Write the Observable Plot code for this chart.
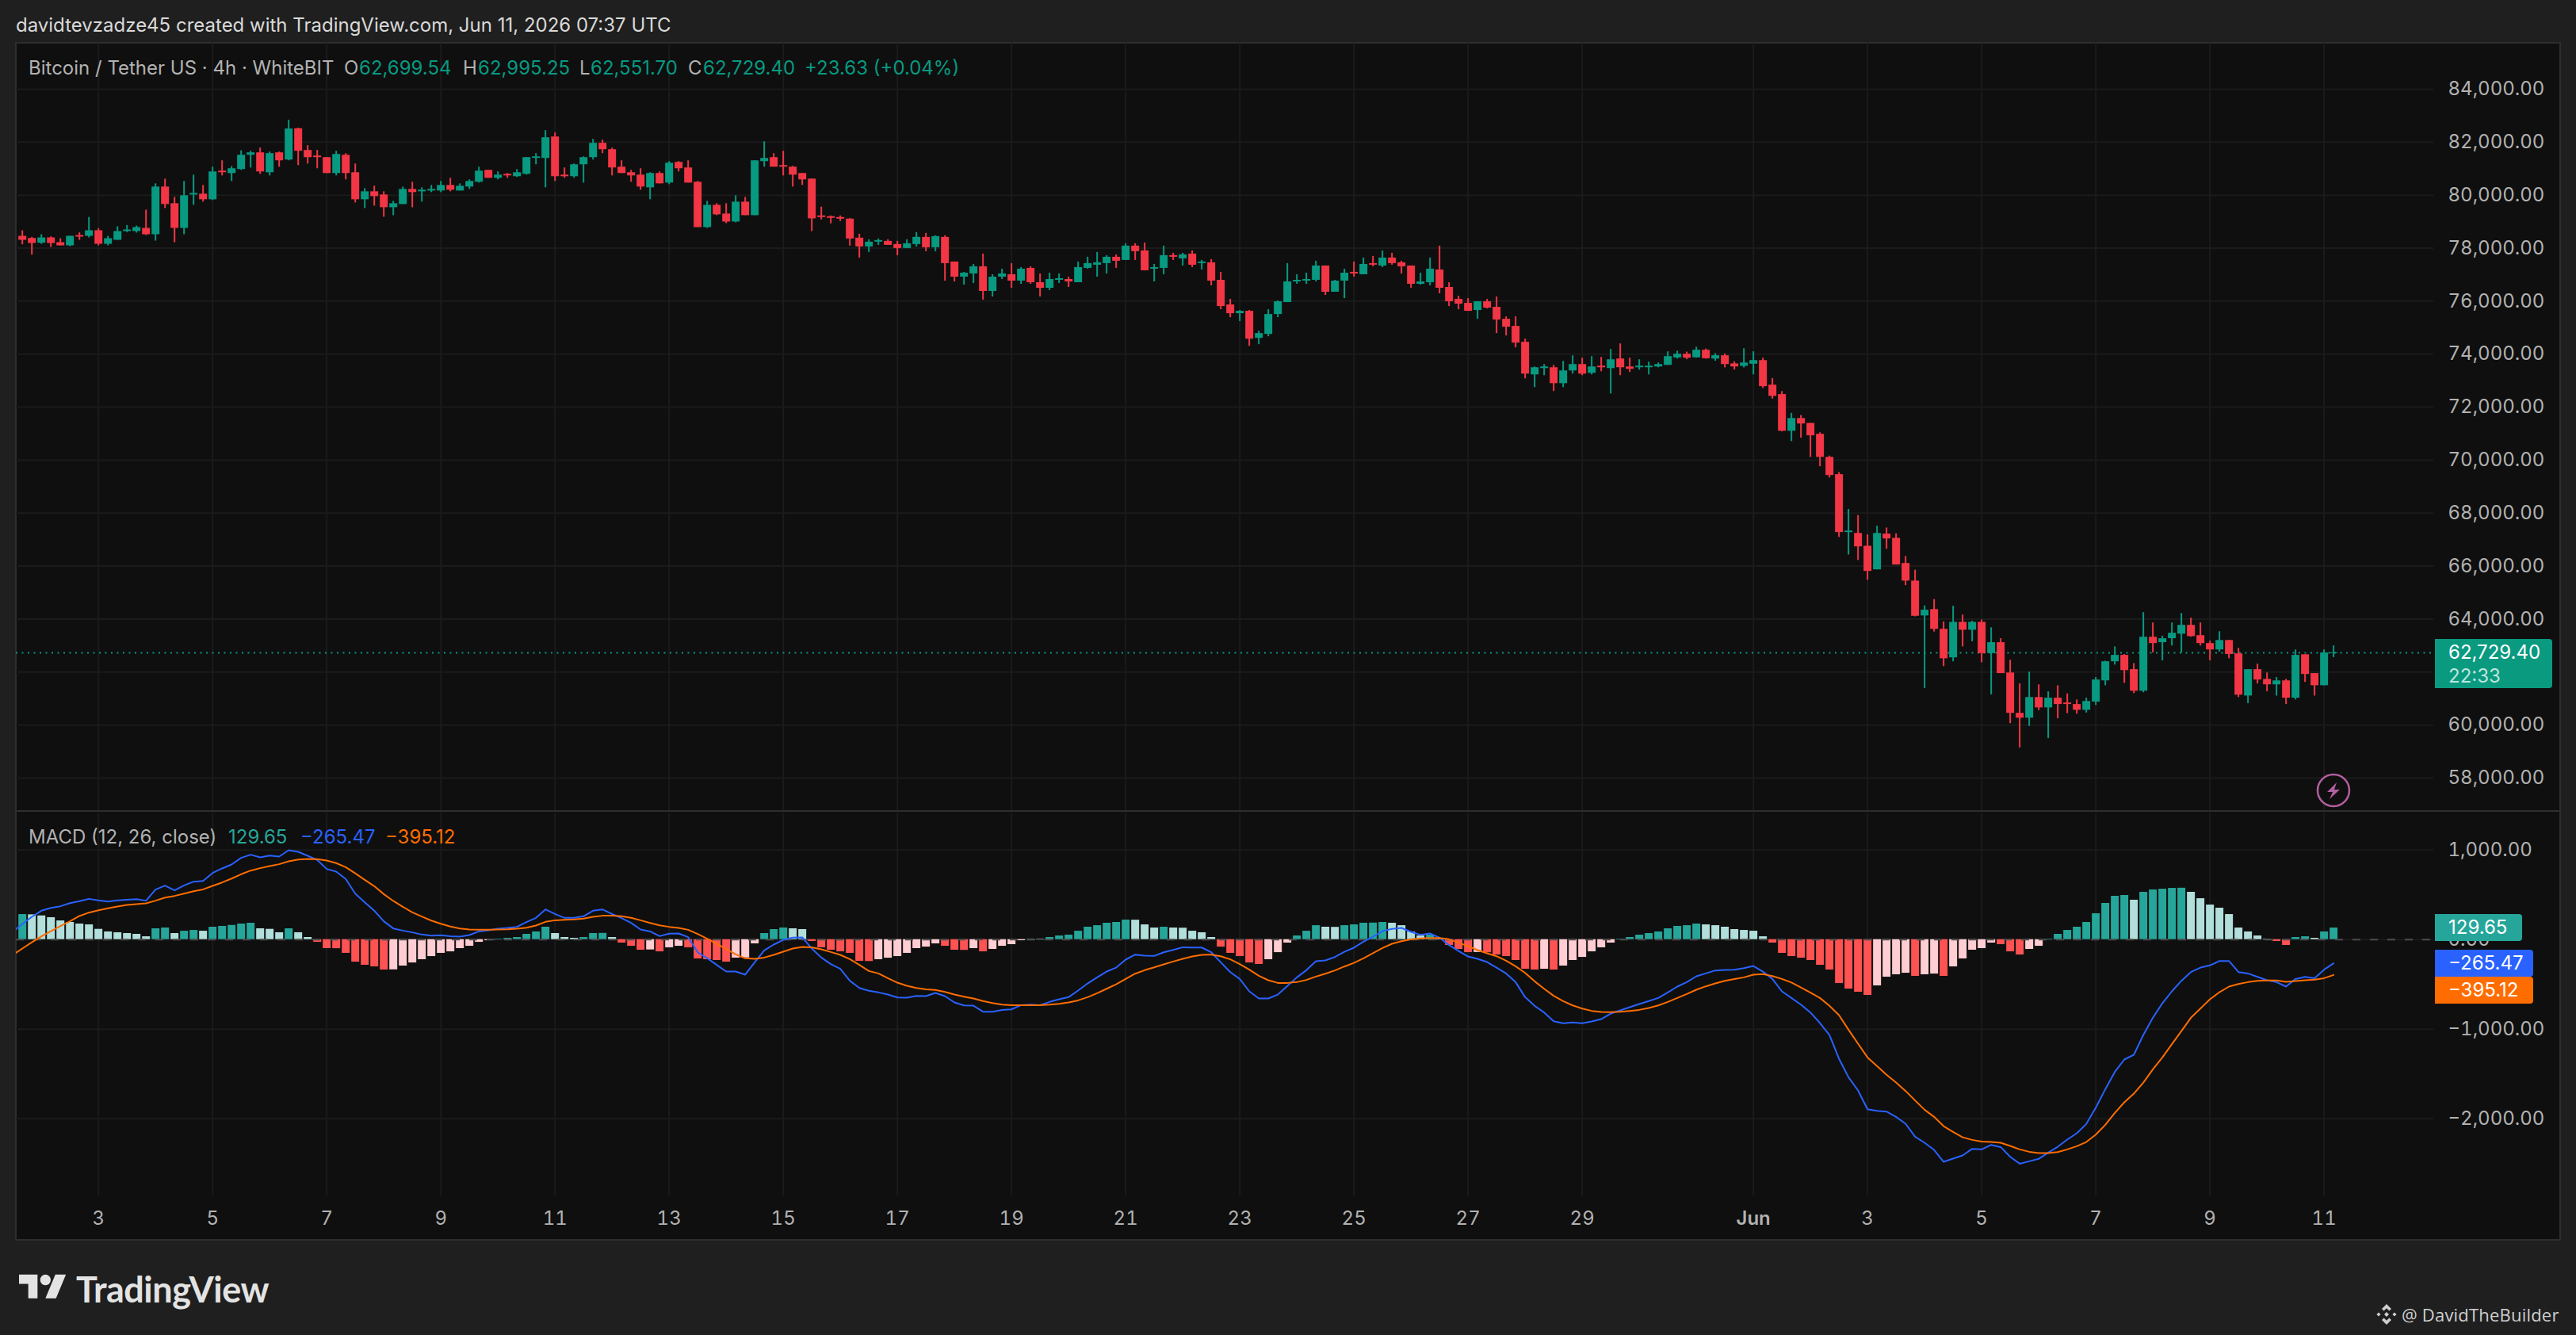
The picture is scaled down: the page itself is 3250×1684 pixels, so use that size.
<!DOCTYPE html>
<html>
<head>
<meta charset="utf-8">
<script src="https://cdn.jsdelivr.net/npm/d3@7"></script>
<script src="https://cdn.jsdelivr.net/npm/@observablehq/plot@0.6"></script>
<style>
html,body{margin:0;padding:0;background:#1f1f1f}
#page{position:relative;width:3250px;height:1684px;background:#1f1f1f;overflow:hidden;font-family:Inter,sans-serif}
#panel{position:absolute;left:19px;top:53px;width:3208px;height:1508px;background:#0f0f0f;border:2px solid #2e2e2e}
#sep{position:absolute;left:20px;top:1022px;width:3209px;height:2px;background:#2e2e2e}
.plot{position:absolute;left:20px}
.t{position:absolute;white-space:pre;line-height:1;font-size:24px;transform:translateY(-50%)}
.tag{position:absolute;left:3072px;color:#fff;font-size:24px;border-radius:0 4px 4px 0;box-sizing:border-box;padding-left:17px;white-space:pre}
svg.ic{position:absolute;overflow:visible}
</style>
</head>
<body>
<div id="page">
  <div id="panel"></div>
  <div class="plot" id="pricePlot" style="top:54px"></div>
  <div class="plot" id="macdPlot" style="top:1025px"></div>
  <div id="sep"></div>
</div>
<script>
const open = [
78450,78370,78190,78390,78210,78090,78480,78450,78660,78150,
78300,78630,78630,78750,78510,80310,79680,78750,80010,80040,
79830,80910,80820,80970,81510,81600,80850,81600,81330,82510,
81690,81480,81420,80820,81510,80850,79830,80130,80010,79530,
79650,80220,80130,80160,80160,80370,80160,80310,80490,80940,
80640,80790,80700,80790,81390,81390,82200,80760,80700,81150,
81420,81960,81720,81060,80850,80760,80280,80820,80460,81240,
81030,80490,78780,79620,79290,78990,79740,79230,81270,81420,
81120,81060,80820,80610,79220,79190,79160,79100,78380,78050,
78230,78260,78140,77990,78140,78410,78020,78410,77480,76910,
77030,77300,76370,76910,77000,76760,77240,76700,76490,76790,
76820,76700,77240,77360,77420,77660,77540,78080,77900,77210,
77240,77720,77600,77780,77420,77450,76790,75860,75530,75620,
74600,74750,75500,75950,76730,76760,76790,77330,76340,76760,
77090,77000,77420,77330,77630,77450,77330,76640,76700,77180,
76520,76070,75920,75650,75980,75770,75320,75050,74450,73220,
73460,73490,72890,73370,73610,73280,73550,73460,73820,73520,
73490,73490,73520,73580,73860,74000,73865,74150,73817,73943,
73634,73543,73623,73760,72833,72478,71093,71574,71390,70978,
70108,69456,67270,67235,66754,65862,67212,67052,66102,65438,
64122,64362,63618,62542,63881,63584,63881,62702,63114,61970,
60447,60264,61042,60653,61019,60836,60779,60562,60871,61672,
62393,62634,62096,61282,63320,63114,63263,63435,63767,63378,
63080,62840,63195,62691,61100,62096,61729,61523,61672,61019,
62657,61947,61489,62699.54];
const high = [
78660,78410,78510,78430,78360,78460,78580,79160,78740,78450,
78810,78860,78840,79440,80430,80610,79920,80520,80760,80370,
81060,81300,81080,81680,81660,81780,81630,81630,82830,82530,
81870,81690,81420,81660,81570,81180,80250,80340,80130,79770,
80310,80490,80280,80370,80520,80640,80430,80580,81060,80940,
80880,80820,80970,81420,81570,82440,82350,81030,81180,81450,
82110,82080,81780,81300,80940,81000,80850,80880,81270,81270,
81300,80520,79770,79680,79680,79980,79920,81300,82020,81570,
81660,81090,80820,80610,79550,79220,79220,79120,78530,78320,
78350,78320,78260,78320,78590,78560,78470,78470,77480,77090,
77390,77780,77000,77210,77420,77270,77300,77030,77060,77030,
76910,77480,77660,77840,77720,77750,78170,78170,78200,77390,
78080,77810,77810,77900,77540,77570,77090,76070,75650,75650,
74870,75680,76010,77420,77000,77060,77510,77330,76790,77210,
77480,77630,77690,77900,77810,77510,77330,77060,77630,78080,
76700,76190,76100,75980,76070,76160,75410,75410,74570,73520,
73610,73580,73730,73940,73850,73910,73880,74180,74390,73850,
73790,73700,73670,74090,74115,74080,74264,74195,74023,74012,
73714,74206,74092,73852,73085,72592,71768,71688,71390,71036,
70154,69536,68140,67910,67178,67510,67441,67224,66365,65850,
64500,64740,63893,64488,64156,63927,63973,63675,63263,62450,
61558,62004,61523,61260,61489,61180,60951,61019,61798,62416,
62954,62668,62324,64248,63858,63355,63858,64213,64041,63858,
63172,63526,63195,62897,62096,62302,61970,61798,61729,62840,
62657,61947,62840,62995.25];
const low = [
78130,77740,78150,78030,78090,78060,78300,78390,78090,78090,
78300,78590,78570,78480,78270,79500,78210,78510,79620,79740,
79800,80730,80520,80940,81030,80790,80730,81060,81300,81120,
81180,81000,80820,80730,80580,79710,79500,79590,79170,79230,
79650,79530,79740,80100,80100,80130,80160,80220,80460,80640,
80580,80640,80670,80760,81150,80280,80520,80640,80640,80460,
81330,81570,80730,80820,80490,80190,79830,80430,80400,80880,
80460,78780,78750,79230,78930,78960,79230,79230,81060,81060,
80730,80310,80370,78630,79070,78920,79010,78080,77630,77840,
78110,78110,77720,77990,78050,77870,77870,76760,76730,76610,
76670,76040,76160,76820,76490,76640,76640,76160,76400,76670,
76520,76700,77210,76910,77030,77240,77540,77540,77150,76730,
77000,77540,77330,77270,77180,76580,75680,75380,75230,74300,
74360,74660,75380,75950,76640,76640,76730,76220,76340,76100,
76910,77000,77300,77270,77360,77030,76490,76610,76580,76280,
75800,75680,75620,75320,75710,74780,74690,74240,73070,72740,
73190,72590,72740,73250,73190,73220,73340,72500,73190,73310,
73400,73220,73490,73580,73817,73795,73852,73817,73737,73485,
73405,73485,73222,72707,72306,71070,70704,70830,70108,69753,
69330,67086,66422,66216,65472,65862,66640,66045,65266,64087,
61385,63515,62210,62393,62954,63149,62359,61145,61947,60058,
59142,59955,60550,59497,60241,60436,60413,60459,60745,61489,
62267,61580,61191,61225,62725,62428,62988,62725,63320,62988,
62428,62760,62507,61042,60814,61557,61260,61100,60779,60951,
61615,61099,61489,62551.70];
const close = [
78300,78180,78390,78180,78090,78450,78420,78660,78150,78360,
78630,78690,78780,78510,80310,79650,78750,79980,80070,79830,
80880,80850,81000,81510,81600,80880,81570,81300,82500,81660,
81420,81420,80820,81540,80820,79830,80130,79950,79530,79680,
80220,80100,80190,80220,80370,80190,80340,80520,80910,80640,
80760,80730,80850,81420,81450,82170,80700,80700,81150,81420,
81960,81720,81030,80820,80730,80310,80820,80430,81210,81000,
80460,78780,79620,79260,78990,79740,79230,81300,81390,81060,
81060,80760,80580,79110,79160,79130,79100,78350,78050,78230,
78290,78110,77990,78170,78410,78020,78440,77420,76910,77060,
77300,76370,76910,77030,76760,77210,76700,76490,76820,76850,
76730,77270,77420,77450,77660,77510,78080,77870,77150,77270,
77720,77660,77750,77360,77480,76760,75800,75530,75620,74570,
74780,75500,75980,76730,76790,76820,77330,76340,76760,77060,
77030,77390,77360,77630,77420,77300,76640,76730,77210,76490,
75980,75890,75620,75980,75740,75290,75020,74420,73250,73490,
73520,72890,73370,73610,73250,73520,73490,73790,73490,73430,
73550,73550,73610,73910,74000,73850,74150,73830,73943,73611,
73520,73668,73760,72776,72409,71093,71574,71367,70921,70108,
69422,67270,67327,66731,65804,67235,67029,66045,65438,64110,
64339,63618,62507,63881,63584,63881,62702,63114,61947,60447,
60264,61042,60653,61019,60779,60779,60562,60894,61706,62393,
62634,62061,61282,63320,63080,63263,63469,63767,63343,63080,
62840,63195,62668,61134,62096,61706,61523,61672,61019,62634,
61913,61489,62725,62729.40];
const histogram = [
280,277,265,245,209,192,174,165,115,86,
77,68,59,32,121,130,68,94,103,94,
139,148,159,174,183,121,115,77,121,77,
24,-30,-100,-101,-153,-251,-286,-304,-339,-337,
-295,-260,-224,-189,-153,-136,-100,-74,-30,-12,
6,15,24,59,86,139,68,24,15,24,
68,70,24,-38,-74,-118,-115,-136,-91,-74,
-91,-215,-224,-233,-251,-206,-204,-47,68,112,
130,121,112,-21,-91,-118,-136,-153,-242,-244,
-224,-207,-189,-153,-100,-83,-47,-74,-118,-120,
-100,-136,-109,-74,-56,-12,7,5,24,41,
50,94,139,156,183,192,218,217,165,130,
139,130,128,94,77,24,-83,-153,-189,-260,
-277,-224,-145,-38,41,94,156,139,137,156,
165,183,185,192,183,156,86,41,50,6,
-65,-109,-145,-143,-146,-171,-189,-233,-330,-339,
-330,-339,-295,-233,-198,-136,-91,-38,6,24,
50,68,86,121,148,156,174,165,156,139,
112,103,94,32,-38,-153,-189,-207,-233,-286,
-339,-490,-552,-587,-622,-516,-419,-392,-375,-410,
-392,-384,-410,-304,-215,-118,-100,-38,-56,-136,
-171,-109,-74,6,59,103,139,192,289,404,
484,493,440,528,555,563,572,574,528,457,
386,351,280,130,86,41,6,-21,-65,24,
32,15,86,129.65];
// MACD and signal lines start one bar before the first candle (cut by the pane edge)
const macdLine = [86,
174,254,322,354,372,407,428,454,437,425,
437,445,451,434,558,602,549,605,646,655,
743,794,838,912,947,917,938,926,997,979,
935,888,788,758,676,513,416,322,204,124,
100,80,56,44,47,38,32,50,91,103,
121,130,142,195,242,336,286,242,242,260,
322,336,286,239,186,112,91,38,65,68,
27,-142,-207,-283,-357,-357,-392,-254,-121,-56,
-3,21,24,-100,-201,-274,-327,-460,-540,-572,
-590,-614,-646,-649,-628,-631,-596,-631,-702,-735,
-738,-805,-805,-785,-779,-732,-726,-732,-696,-667,
-643,-569,-490,-422,-357,-313,-224,-168,-180,-183,
-142,-115,-86,-89,-89,-142,-254,-363,-440,-578,
-658,-658,-614,-519,-422,-342,-242,-233,-195,-136,
-91,-24,32,94,118,130,86,53,68,21,
-62,-127,-189,-215,-251,-313,-378,-475,-643,-740,
-814,-912,-935,-926,-935,-915,-888,-826,-791,-755,
-720,-687,-652,-590,-525,-475,-410,-378,-345,-339,
-336,-319,-295,-357,-440,-578,-652,-726,-814,-932,
-1065,-1330,-1537,-1684,-1894,-1912,-1920,-1979,-2056,-2201,
-2268,-2348,-2481,-2445,-2410,-2336,-2342,-2292,-2316,-2425,
-2502,-2475,-2448,-2378,-2313,-2233,-2162,-2059,-1876,-1670,
-1478,-1339,-1286,-1065,-873,-711,-578,-460,-363,-313,
-289,-239,-239,-363,-378,-416,-454,-475,-525,-440,
-416,-431,-336,-265.47];
const signalLine = [-171,
-100,-30,35,94,150,204,263,301,327,348,
369,386,395,404,434,469,487,513,540,560,
599,637,681,729,770,797,820,841,873,894,
900,897,882,853,808,740,667,596,507,431,
366,304,257,212,177,145,124,112,109,109,
112,115,121,133,156,198,215,221,224,233,
254,266,266,260,242,215,186,159,142,130,
109,62,9,-47,-106,-165,-209,-215,-201,-171,
-136,-100,-83,-86,-109,-139,-171,-218,-283,-351,
-378,-431,-481,-516,-540,-555,-563,-584,-614,-637,
-658,-687,-708,-726,-732,-732,-732,-732,-726,-717,
-702,-679,-643,-599,-549,-499,-440,-381,-342,-310,
-277,-245,-215,-189,-171,-168,-186,-221,-274,-336,
-404,-454,-484,-484,-475,-451,-413,-381,-345,-301,
-260,-209,-153,-94,-47,-18,3,12,18,18,
3,-35,-74,-118,-153,-186,-236,-298,-372,-466,
-549,-628,-687,-735,-770,-796,-808,-811,-805,-796,
-785,-764,-735,-696,-652,-608,-560,-522,-490,-460,
-440,-422,-392,-386,-407,-440,-480,-535,-593,-652,
-740,-844,-1006,-1162,-1316,-1413,-1510,-1596,-1690,-1796,
-1900,-1979,-2083,-2148,-2207,-2236,-2254,-2260,-2268,-2304,
-2342,-2369,-2384,-2384,-2372,-2342,-2307,-2260,-2177,-2068,
-1935,-1817,-1720,-1596,-1448,-1316,-1168,-1021,-873,-770,
-667,-587,-525,-496,-475,-460,-457,-457,-472,-463,
-454,-448,-431,-395.12];
const priceTicks = [58000,60000,62000,64000,66000,68000,70000,72000,74000,76000,78000,80000,82000,84000];
// the 62,000 label sits hidden behind the last-price tag in the reference
const priceLabels = priceTicks.filter(t=>t!==62000);
const macdTicks = [1000,0,-1000,-2000];
// bar index of each labelled day on the time axis
const dayBars = [8,20,32,44,56,68,80,92,104,116,128,140,152,164,182,194,206,218,230,242];
const dayLabels = ["3","5","7","9","11","13","15","17","19","21","23","25","27","29","Jun","3","5","7","9","11"];
const lastPrice = 62729.40;

const GREEN="#089981", RED="#f23645";
const HG="#26a69a", HGP="#b2dfdb", HR="#ff5252", HRP="#ffcdd2";
const GRID="#1b1b1b", TICK="#b2b2b2";
const xScale={domain:[-0.642,253.53],axis:null};
const fmt=d3.format(",.2f");
const base={width:3210,marginLeft:0,marginRight:160,marginTop:0,
  style:{background:"transparent",color:TICK,fontFamily:"Inter, sans-serif",fontSize:"24px"}};

const bars=open.map((o,i)=>({i,open:o,high:high[i],low:low[i],close:close[i],up:close[i]>=o}));
const candleColor=d=>d.up?GREEN:RED;

const price=Plot.plot({...base,height:969,marginBottom:0,
  x:xScale,
  y:{domain:[56743,85735],axis:null},
  marks:[
    Plot.gridX({ticks:dayBars,stroke:GRID,strokeOpacity:1,strokeWidth:2}),
    Plot.gridY({ticks:priceTicks,stroke:GRID,strokeOpacity:1,strokeWidth:2}),
    Plot.axisY({anchor:"right",ticks:priceLabels,tickSize:0,tickPadding:18,tickFormat:fmt,label:null}),
    Plot.ruleY([lastPrice],{stroke:GREEN,strokeWidth:2,strokeDasharray:"2,5.5"}),
    Plot.ruleX(bars,{x:"i",y1:"low",y2:"high",stroke:candleColor,strokeWidth:2}),
    Plot.ruleX(bars,{x:"i",y1:"open",y2:"close",stroke:candleColor,strokeWidth:10})
  ]});
document.getElementById("pricePlot").append(price);

const histColor=(v,i)=>{
  const p=i>0?histogram[i-1]:-Infinity;
  return v>=0?(v>p?HG:HGP):(v<p?HR:HRP);
};
const hist=histogram.map((v,i)=>({i,v,c:histColor(v,i)}));
const lineIndex=d3.range(-1,244);
const macdPts=macdLine.map((v,k)=>({i:lineIndex[k],v}));
const signalPts=signalLine.map((v,k)=>({i:lineIndex[k],v}));

const macd=Plot.plot({...base,height:539,marginBottom:56,
  x:xScale,
  y:{domain:[-2861,1413],axis:null},
  marks:[
    Plot.gridX({ticks:dayBars,stroke:GRID,strokeOpacity:1,strokeWidth:2}),
    Plot.gridY({ticks:macdTicks,stroke:GRID,strokeOpacity:1,strokeWidth:2}),
    Plot.axisY({anchor:"right",ticks:macdTicks,tickSize:0,tickPadding:18,tickFormat:fmt,label:null}),
    Plot.axisX({ticks:dayBars.filter(b=>b!==182),tickSize:0,tickPadding:19,label:null,
      tickFormat:d=>dayLabels[dayBars.indexOf(d)]}),
    Plot.axisX({ticks:[182],tickSize:0,tickPadding:19,label:null,fontWeight:600,
      tickFormat:d=>dayLabels[dayBars.indexOf(d)]}),
    Plot.ruleX(hist,{x:"i",y1:0,y2:"v",stroke:"c",strokeWidth:10}),
    Plot.ruleY([0],{stroke:"#4c4c4c",strokeWidth:2,strokeDasharray:"10,12"}),
    Plot.line(macdPts,{x:"i",y:"v",stroke:"#2962ff",strokeWidth:2,clip:true}),
    Plot.line(signalPts,{x:"i",y:"v",stroke:"#ff6d00",strokeWidth:2,clip:true})
  ]});
document.getElementById("macdPlot").append(macd);

// ---- texts laid over the panes
const page=document.getElementById("page");
function txt(s,x,y,color,extra){
  const e=document.createElement("div");e.className="t";e.textContent=s;
  e.style.left=x+"px";e.style.top=y+"px";e.style.color=color;
  if(extra)Object.assign(e.style,extra);page.append(e);return e;
}
txt("davidtevzadze45 created with TradingView.com, Jun 11, 2026 07:37 UTC",20,32,"#d9d9d9");
const TXT="#b2b2b2", NUM="#089981";
const headerItems=[
  ["Bitcoin / Tether US · 4h · WhiteBIT",36,TXT],
  ["O",434,TXT],["62,699.54",453,NUM],
  ["H",584,TXT],["62,995.25",603,NUM],
  ["L",731,TXT],["62,551.70",745,NUM],
  ["C",868,TXT],["62,729.40",887,NUM],
  ["+23.63 (+0.04%)",1015,NUM]];
headerItems.forEach(([s,x,c])=>txt(s,x,86,c));
[["MACD (12, 26, close)",36,TXT],["129.65",288,HG],["−265.47",379,"#2962ff"],["−395.12",486,"#ff6d00"]]
  .forEach(([s,x,c])=>txt(s,x,1056,c));

function tag(html,top,h,w,bg){
  const e=document.createElement("div");e.className="tag";e.innerHTML=html;
  Object.assign(e.style,{top:top+"px",height:h+"px",width:w+"px",background:bg,lineHeight:h+"px"});
  page.append(e);
}
const tagNow=document.createElement("div");tagNow.className="tag";
Object.assign(tagNow.style,{top:"806px",height:"62px",width:"148px",background:"#0a9a80",lineHeight:"1"});
tagNow.innerHTML='<div style="margin-top:5px">62,729.40</div><div style="margin-top:6px;color:#bfe5dc">22:33</div>';
page.append(tagNow);
tag("129.65",1153,34,110,HG);
tag("−265.47",1198,34,124,"#2962ff");
tag("−395.12",1232,34,124,"#ff6d00");

txt("TradingView",96,1626,"#e3e3e3",{fontSize:"45px",fontWeight:"700",letterSpacing:"-0.5px",fontFamily:"Lato, Inter, sans-serif"});
txt("@ DavidTheBuilder",3030,1658,"#cfcfcf",{fontSize:"22px",letterSpacing:"0.2px",fontFamily:"'Open Sans', sans-serif"});

page.insertAdjacentHTML("beforeend",`
<svg class="ic" style="left:24px;top:1601px" width="60" height="47" viewBox="0 0 36 28" fill="#e3e3e3">
  <path d="M14 22H7V11H0V4h14v18ZM28 22h-8l7.5-18h8L28 22Z"/><circle cx="20" cy="8" r="4"/>
</svg>
<svg class="ic" style="left:2997px;top:1644px" width="28" height="28" viewBox="0 0 28 28" fill="#cfcfcf">
  <path d="M14 1l6 6-2.6 2.6L14 6.2l-3.4 3.4L8 7zM14 27l-6-6 2.6-2.6 3.4 3.4 3.4-3.4L20 21zM4 11.4L6.6 14 4 16.6 1.4 14zM24 11.4L26.6 14 24 16.6 21.4 14zM14 11l3 3-3 3-3-3z"/>
</svg>
<svg class="ic" style="left:2923px;top:976px" width="42" height="42" viewBox="0 0 42 42">
  <circle cx="21" cy="21" r="20" fill="#0f0f0f" stroke="#b15f9e" stroke-width="2.5"/>
  <path d="M25 11L13 23h7l-4 9 13-12h-7z" fill="#b15f9e"/>
</svg>`);
</script>
</body>
</html>
